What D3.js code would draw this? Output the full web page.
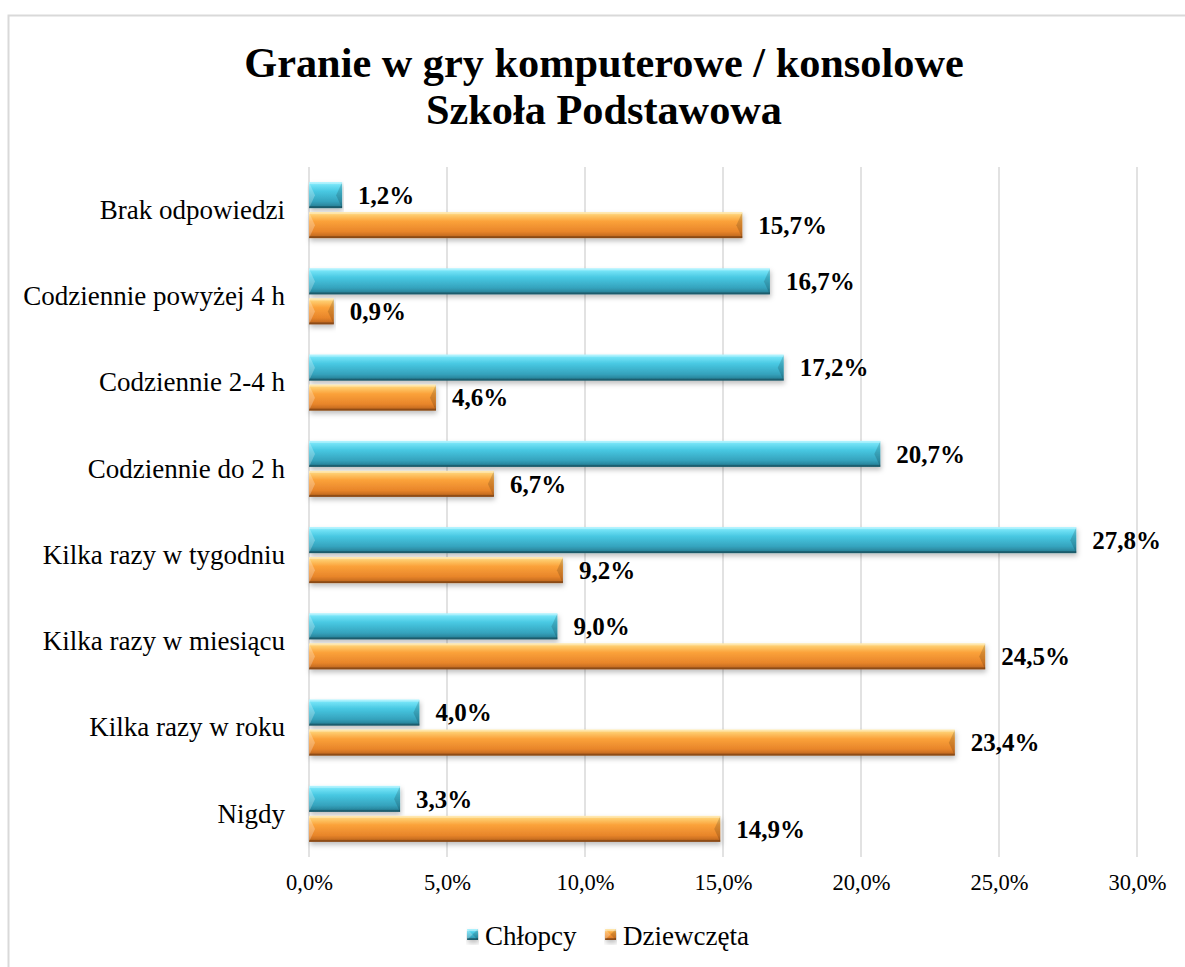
<!DOCTYPE html>
<html>
<head>
<meta charset="utf-8">
<script src="https://cdn.jsdelivr.net/npm/d3@7"></script>
<style>
  body { margin: 0; background: #fff; }
  svg { display: block; font-family: "Liberation Serif", "Times New Roman", serif; }
</style>
</head>
<body>
<svg id="chart" width="1185" height="967"></svg>
<script>
const categories = ["Brak odpowiedzi", "Codziennie powyżej 4 h", "Codziennie 2-4 h", "Codziennie do 2 h",
    "Kilka razy w tygodniu", "Kilka razy w miesiącu", "Kilka razy w roku", "Nigdy"];
const chlopcy = [1.2, 16.7, 17.2, 20.7, 27.8, 9.0, 4.0, 3.3];
const dziewczeta = [15.7, 0.9, 4.6, 6.7, 9.2, 24.5, 23.4, 14.9];
const seriesNames = ["Chłopcy", "Dziewczęta"];
const xTicks = [0, 5, 10, 15, 20, 25, 30];

const fmt = v => v.toFixed(1).replace(".", ",") + "%";

const svg = d3.select("#chart");

// chart frame (only top + left edges visible)
svg.append("path")
    .attr("d", "M8.5,967 V15.5 H1185")
    .attr("fill", "none")
    .attr("stroke", "#d9d9d9")
    .attr("stroke-width", 2);

// title
const title = svg.append("text")
    .attr("text-anchor", "middle")
    .attr("font-weight", "bold")
    .attr("font-size", 42.3)
    .attr("fill", "#000");
title.append("tspan").attr("x", 604).attr("y", 77).text("Granie w gry komputerowe / konsolowe");
title.append("tspan").attr("x", 604).attr("y", 124).text("Szkoła Podstawowa");

const x = d3.scaleLinear().domain([0, 30]).range([309, 1137]);
const y = d3.scaleBand().domain(categories).range([167, 857]).padding(0);

// gradients
const defs = svg.append("defs");
const grads = {
    c: [["0%", "#86eeff"], ["35%", "#48c8e2"], ["75%", "#35a3bd"], ["100%", "#23758a"]],
    d: [["0%", "#ffdf86"], ["35%", "#fba23a"], ["75%", "#e8852a"], ["100%", "#b45f1c"]]
};
Object.entries(grads).forEach(([k, stops]) => {
    const g = defs.append("linearGradient").attr("id", "g" + k)
        .attr("x1", 0).attr("y1", 0).attr("x2", 0).attr("y2", 1);
    stops.forEach(s => g.append("stop").attr("offset", s[0]).attr("stop-color", s[1]));
});
const shadow = defs.append("filter").attr("id", "sh")
    .attr("x", "-5%").attr("y", "-20%").attr("width", "110%").attr("height", "160%");
shadow.append("feDropShadow").attr("dx", 1).attr("dy", 3).attr("stdDeviation", 2.5)
    .attr("flood-color", "#000").attr("flood-opacity", 0.25);

// gridlines
svg.append("g").selectAll("line")
    .data(xTicks)
    .join("line")
    .attr("x1", d => x(d)).attr("x2", d => x(d))
    .attr("y1", 167).attr("y2", 857)
    .attr("stroke", "#d9d9d9").attr("stroke-width", 1.5);

// x axis labels
const xAxis = svg.append("g").attr("transform", "translate(0,857)")
    .call(d3.axisBottom(x).tickValues(xTicks).tickFormat(fmt).tickSize(0).tickPadding(17));
xAxis.select(".domain").remove();
xAxis.selectAll("text")
    .attr("font-family", "Liberation Serif, serif")
    .attr("font-size", 22.5).attr("fill", "#000");

// category labels
const yAxis = svg.append("g").attr("transform", "translate(285,0)")
    .call(d3.axisLeft(y).tickSize(0).tickPadding(0));
yAxis.select(".domain").remove();
yAxis.selectAll("text")
    .attr("font-family", "Liberation Serif, serif")
    .attr("font-size", 27).attr("fill", "#000");

const barH = 26;
const rows = categories.map((c, i) => ({ cat: c, c: chlopcy[i], d: dziewczeta[i] }));

function bevelBar(g, x0, x1, y0, h, key) {
    const w = x1 - x0;
    const b = Math.min(6, w / 2);
    const grp = g.append("g").attr("filter", "url(#sh)");
    grp.append("rect").attr("x", x0).attr("y", y0).attr("width", w).attr("height", h)
        .attr("fill", `url(#g${key})`);
    // left bevel (lighter)
    grp.append("path")
        .attr("d", `M${x0},${y0} L${x0 + b},${y0 + h / 2} L${x0},${y0 + h} Z`)
        .attr("fill", "#fff").attr("opacity", 0.25);
    // right bevel (darker)
    grp.append("path")
        .attr("d", `M${x1},${y0} L${x1 - b},${y0 + h / 2} L${x1},${y0 + h} Z`)
        .attr("fill", "#000").attr("opacity", 0.15);
    // top highlight / bottom shade lines
    grp.append("rect").attr("x", x0).attr("y", y0).attr("width", w).attr("height", 2)
        .attr("fill", "#fff").attr("opacity", 0.35);
    grp.append("rect").attr("x", x0).attr("y", y0 + h - 2).attr("width", w).attr("height", 2)
        .attr("fill", "#000").attr("opacity", 0.25);
}

const barsG = svg.append("g");
const labelsG = svg.append("g");
rows.forEach(r => {
    const mid = y(r.cat) + y.bandwidth() / 2;
    const yc = mid - barH - 2;
    const yd = mid + 2;
    bevelBar(barsG, x(0), x(r.c), yc, barH, "c");
    bevelBar(barsG, x(0), x(r.d), yd, barH, "d");
    [[r.c, yc], [r.d, yd]].forEach(([v, yy]) => {
        labelsG.append("text")
            .attr("x", x(v) + 16)
            .attr("y", yy + barH / 2)
            .attr("dy", "0.35em")
            .attr("font-weight", "bold")
            .attr("font-size", 25)
            .attr("fill", "#000")
            .text(fmt(v));
    });
});

// legend
const legend = svg.append("g");
const legendItems = [
    { name: seriesNames[0], key: "c", x: 467 },
    { name: seriesNames[1], key: "d", x: 605 }
];
legendItems.forEach(it => {
    bevelBar(legend, it.x, it.x + 11, 929, 11, it.key);
    legend.append("text")
        .attr("x", it.x + 18).attr("y", 945)
        .attr("font-size", 27).attr("fill", "#000")
        .text(it.name);
});
</script>
</body>
</html>
